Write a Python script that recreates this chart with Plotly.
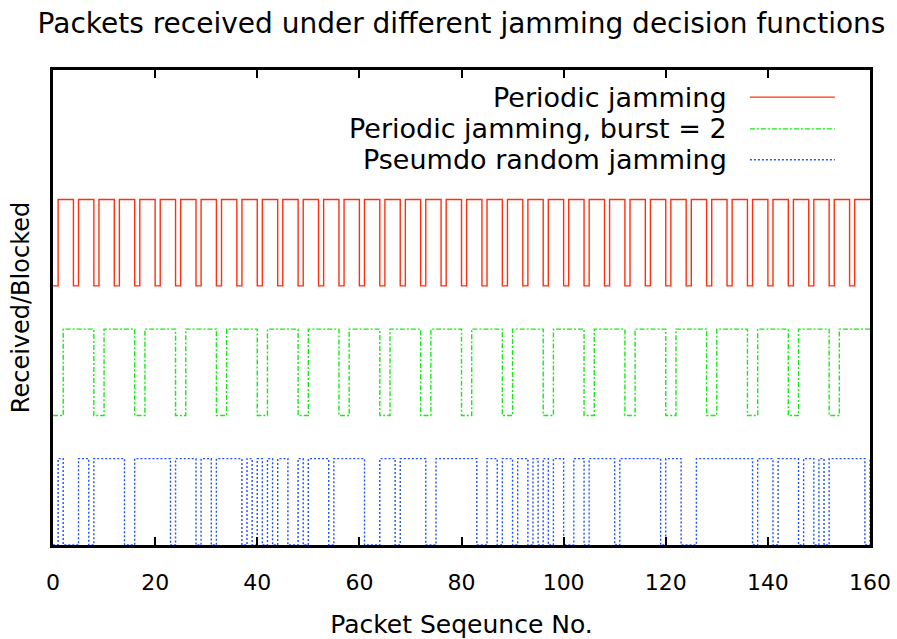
import plotly.graph_objects as go

# ---------------- data ----------------
packets = list(range(0, 161))

series_names = [
    "Periodic jamming",
    "Periodic jamming, burst = 2",
    "Pseumdo random jamming",
]

# packets that were blocked (value 0); all others received (value 1)
red_blocked = [0, 4, 8, 12, 16, 20, 24, 28, 32, 36, 40, 44, 48, 52, 56, 60, 64, 68, 72, 76,
               80, 84, 88, 92, 96, 100, 104, 108, 112, 116, 120, 124, 128, 132, 136, 140,
               144, 148, 152, 156]
green_blocked = [0, 1, 8, 9, 16, 17, 24, 25, 32, 33, 40, 41, 48, 49, 56, 57, 64, 65, 72, 73,
                 80, 81, 88, 89, 96, 97, 104, 105, 112, 113, 120, 121, 128, 129, 136, 137,
                 144, 145, 152, 153]
blue_blocked = [0, 2, 3, 4, 7, 14, 15, 23, 28, 31, 37, 39, 41, 43, 46, 47, 49, 54, 61, 62,
                63, 67, 73, 74, 83, 84, 87, 90, 93, 95, 97, 100, 101, 104, 110, 119, 123,
                124, 125, 137, 141, 146, 149, 151, 159]

# vertical offset of each trace on the (unlabelled) y axis
baselines = [3.0, 1.5, 0.0]

x_ticks = [0, 20, 40, 60, 80, 100, 120, 140, 160]

# ---------------- styling ----------------
colors = ["#ff3010", "#11ee11", "#2050ff"]
dashes = ["solid", "5px,2px,2px,2px", "2px,2px"]
FONT = "DejaVu Sans"


def received(blocked):
    return [0 if p in blocked else 1 for p in packets]


fig = go.Figure()
for name, blocked, base, col, dash in zip(series_names,
                                          [red_blocked, green_blocked, blue_blocked],
                                          baselines, colors, dashes):
    fig.add_trace(go.Scatter(
        x=packets,
        y=[base + v for v in received(blocked)],
        mode="lines",
        name=name,
        line=dict(shape="hv", color=col, width=1.4, dash=dash),
        showlegend=False,
        hoverinfo="skip",
    ))

# hand-made legend: text right-aligned, sample line to its right
legend_y = [0.943, 0.876, 0.811]
for name, col, dash, ly in zip(series_names, colors, dashes, legend_y):
    fig.add_annotation(x=0.827, y=ly, xref="paper", yref="paper", text=name,
                       showarrow=False, xanchor="right", yanchor="middle",
                       font=dict(family=FONT, size=27, color="black"))
    fig.add_shape(type="line", xref="paper", yref="paper", x0=0.853, x1=0.957,
                  y0=ly, y1=ly, line=dict(color=col, width=1.4, dash=dash))

fig.update_layout(
    width=897, height=639,
    margin=dict(l=53, r=27, t=70, b=94),
    paper_bgcolor="white", plot_bgcolor="white",
    font=dict(family=FONT, color="black"),
    title=dict(text="Packets received under different jamming decision functions",
               x=0.5, xref="paper", xanchor="center", y=0.963, yanchor="middle",
               font=dict(family=FONT, size=28, color="black")),
)
fig.update_xaxes(
    range=[0, 160], tickvals=x_ticks, ticktext=[str(t) for t in x_ticks],
    ticks="inside", ticklen=8, tickwidth=2, tickcolor="black",
    showline=True, linecolor="black", linewidth=2.5, mirror="allticks",
    showgrid=False, zeroline=False, automargin=False,
    tickfont=dict(family=FONT, size=22), ticklabelstandoff=16,
    title=dict(text="Packet Seqeunce No.", font=dict(family=FONT, size=25), standoff=26),
)
fig.update_yaxes(
    range=[0, 5.5], showticklabels=False, ticks="",
    showline=True, linecolor="black", linewidth=2.5, mirror=True,
    showgrid=False, zeroline=False, automargin=False,
    title=dict(text="Received/Blocked", font=dict(family=FONT, size=24), standoff=14),
)

fig.write_html("out.html")
